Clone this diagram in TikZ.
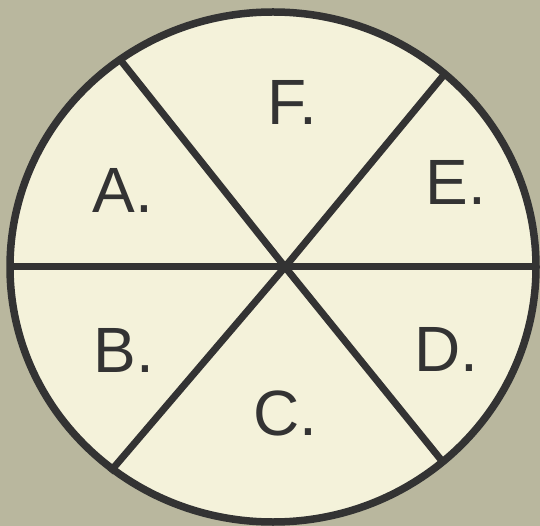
\documentclass[tikz,border=0pt]{standalone}
\usepackage{fontspec}
\setmainfont{Liberation Sans}
\usetikzlibrary{positioning}
\definecolor{cback}{HTML}{B9B79E}
\definecolor{ccream}{HTML}{F4F2DA}
\definecolor{cink}{HTML}{333333}
\tikzset{
  every picture/.style={font=\fontsize{64}{64}\selectfont},
  rim/.style={draw=cink, fill=ccream, line width=7.5pt},
  cut/.style={draw=cink, line width=7pt},
  lbl/.style={text=cink, inner sep=0pt},
}

\begin{document}
\begin{tikzpicture}[x=1pt, y=-1pt]
  % page and background
  \useasboundingbox (0,0) rectangle (540,526);
  \fill[cback] (0,0) rectangle (540,526);
  % the disc
  \draw[rim] (273,267) ellipse [x radius=263, y radius=255];
  % cut points on the rim and the crossing point
  \coordinate (mid) at (285,267);
  \coordinate (w) at (10,267);
  \coordinate (e) at (536,267);
  \coordinate (nw) at (122,62);
  \coordinate (se) at (442,461);
  \coordinate (ne) at (443,76);
  \coordinate (sw) at (110,472);
  \draw[cut] (w) -- (e);
  \draw[cut] (nw) -- (mid) -- (se);
  \draw[cut] (ne) -- (mid) -- (sw);
  % sector labels
  \node[lbl] (la) at (123,190) {A.};
  \node[lbl] (lb) at (124,350) {B.};
  \node[lbl] (lc) at (285,413) {C.};
  \node[lbl] (ld) at (446,349) {D.};
  \node[lbl] (le) at (456,182) {E.};
  \node[lbl] (lf) at (292,102) {F.};
\end{tikzpicture}
\end{document}
